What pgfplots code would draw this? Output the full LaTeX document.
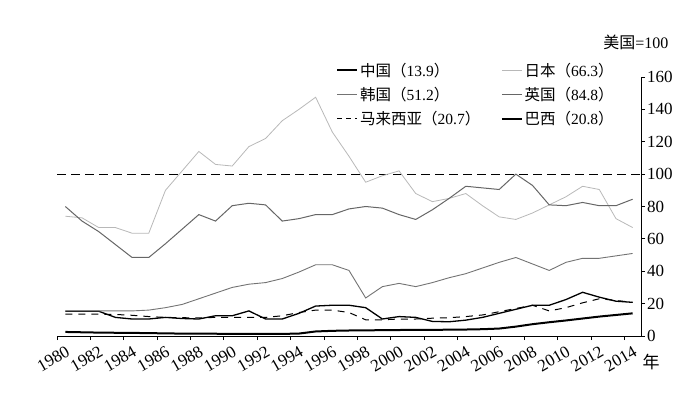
\documentclass[border=0pt]{standalone}
\usepackage{pgfplots}
\pgfplotsset{compat=1.18}
\usepackage{pgfplotstable}
\usepackage{fontspec}
\setmainfont{Liberation Serif}
\newfontfamily\cjk{Noto Sans CJK SC}
\pgfplotstableread{
x cn jp kr uk my br
1980.5 2.5 74 15.5 80 13.5 15.3
1981.5 2.3 73 15.5 71 13.5 15.3
1982.5 2.1 67 15.5 64.5 13.5 15.3
1983.5 2.0 67 15.5 56.5 13.3 11.5
1984.5 1.9 63.5 15.5 48.5 12.8 10.5
1985.5 1.8 63.5 16 48.5 12 10.5
1986.5 1.6 90 17.5 57 11.5 11.5
1987.5 1.5 102 19.5 66 11.3 10.8
1988.5 1.5 114 23 75 11.2 10.5
1989.5 1.4 106 26.5 71 11.5 12.5
1990.5 1.3 105 30 80.5 11.5 12.5
1991.5 1.3 117 32 82 11.5 15.5
1992.5 1.3 122 33 81 11.5 10.5
1993.5 1.3 133 35.5 71 12.5 10.5
1994.5 1.5 140 39.5 72.5 14.5 14
1995.5 2.8 147.5 44 75 16 18.5
1996.5 3.2 126 44 75 16 19
1997.5 3.4 111 40.5 78.5 14.5 19
1998.5 3.5 95 23.5 80 10 17.5
1999.5 3.6 99 30.5 79 10 10.5
2000.5 3.7 102 32.5 75 10.5 12
2001.5 3.8 88 30.5 72 10.5 11.5
2002.5 3.8 83 33 78 11 9
2003.5 3.9 85 36 85 11.3 8.8
2004.5 4.0 88 38.5 92.5 12 9.8
2005.5 4.2 80.5 42 91.5 13 11.5
2006.5 4.6 73.6 45.5 90.5 15 14
2007.5 5.8 72 48.5 100 17 16.5
2008.5 7.3 76 44.5 93 19 19
2009.5 8.5 81 40.5 81 15.5 19
2010.5 9.6 86 45.5 80.5 17.5 22.5
2011.5 10.8 92.5 48 82.5 20.5 27
2012.5 12 90.5 48 80.5 23 24
2013.5 13 72.5 49.5 80.5 22 21.5
2014.5 14 67 51 84.5 20.7 20.8
}\data
\begin{document}
\begin{tikzpicture}
\useasboundingbox (0pt,0pt) rectangle (693pt,397pt);
\begin{axis}[
  at={(57pt,61pt)}, anchor=south west,
  scale only axis, width=584pt, height=259pt,
  xmin=1980, xmax=2015, ymin=0, ymax=160,
  axis x line=bottom, axis y line=right,
  axis line style={-, line width=0.9pt},
  xtick={1980,1982,...,2014}, ytick={0,20,...,160},
  tick align=outside, major tick length=4pt,
  tick style={line width=0.8pt, black},
  /pgf/number format/assume math mode=true,
  /pgf/number format/1000 sep={},
  ticklabel style={font=\fontsize{17}{17}\selectfont},
  x tick label style={rotate=30, anchor=north east, inner sep=0.5pt, xshift=5pt, yshift=-8pt},
  y tick label style={inner sep=2pt},
  clip=false,
  legend columns=2,
  legend style={draw=none, fill=none, at={(0.4726,1.07)}, anchor=north west,
    font=\fontsize{15.5}{15.5}\selectfont, row sep=5.5pt,
    /tikz/every even column/.append style={column sep=19pt}},
  legend cell align=left,
  legend image code/.code={\draw[#1] (0pt,0pt) -- (20pt,0pt);},
]
\addplot[black, dash pattern=on 9pt off 5pt, line width=0.9pt, forget plot] coordinates {(1980,100) (2015,100)};
\addplot[black, line width=1.3pt, forget plot] table[x=x,y=br] {\data};
\addplot[black!28, line width=0.8pt, forget plot] table[x=x,y=jp] {\data};
\addplot[black!60, line width=1.0pt, forget plot] table[x=x,y=uk] {\data};
\addplot[black!55, line width=0.9pt, forget plot] table[x=x,y=kr] {\data};
\addplot[black, dash pattern=on 7pt off 6pt, line width=1.0pt, forget plot] table[x=x,y=my] {\data};
\addplot[black, line width=2pt, forget plot] table[x=x,y=cn] {\data};
\addlegendimage{black, line width=2pt}
\addlegendentry{{\cjk 中国（}13.9{\cjk ）}}
\addlegendimage{black!28, line width=0.8pt}
\addlegendentry{{\cjk 日本（}66.3{\cjk ）}}
\addlegendimage{black!55, line width=0.9pt}
\addlegendentry{{\cjk 韩国（}51.2{\cjk ）}}
\addlegendimage{black!60, line width=1.0pt}
\addlegendentry{{\cjk 英国（}84.8{\cjk ）}}
\addlegendimage{black, dash pattern=on 5pt off 4pt, line width=1.0pt}
\addlegendentry{{\cjk 马来西亚（}20.7{\cjk ）}}
\addlegendimage{black, line width=1.3pt}
\addlegendentry{{\cjk 巴西（}20.8{\cjk ）}}
\end{axis}
\node[anchor=east, font=\fontsize{16}{16}\selectfont] at (672pt,355pt) {{\cjk 美国}=100};
\node[font=\fontsize{17}{17}\selectfont] at (651pt,35pt) {\cjk 年};
\end{tikzpicture}
\end{document}
